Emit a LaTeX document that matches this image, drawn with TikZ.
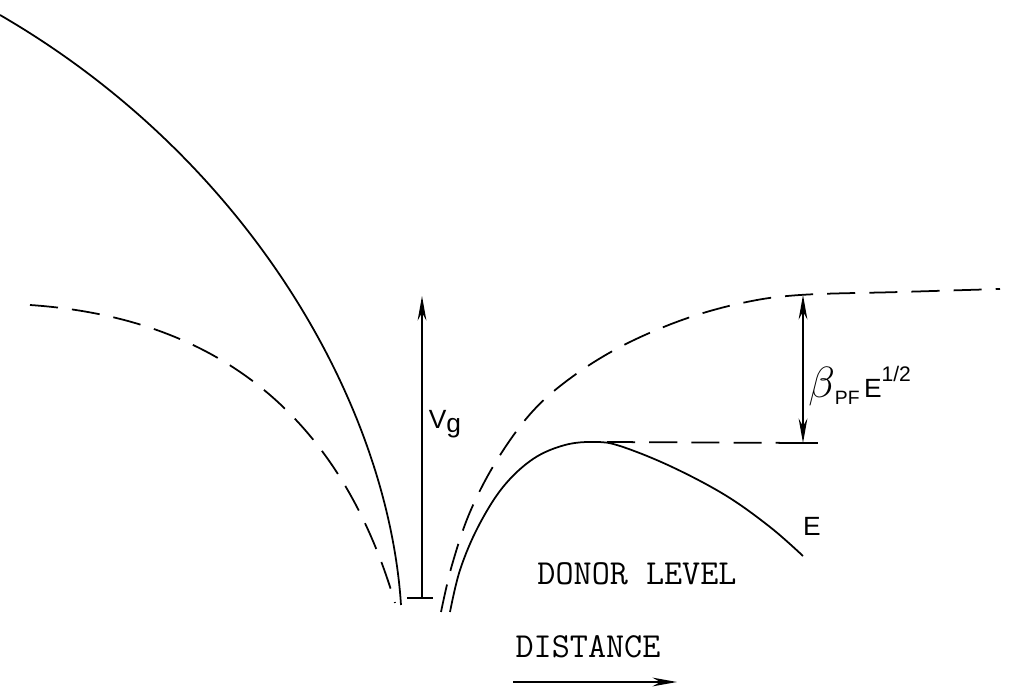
\documentclass[tikz,border=0pt]{standalone}
\usepackage{fontspec}
\usepackage{tikz}
\usetikzlibrary{arrows.meta, positioning, calc}
\newfontfamily\letterfont{Liberation Sans}

\begin{document}
\begin{tikzpicture}[
  x=0.02cm, y=-0.02cm,
  curve/.style={line width=1pt, line join=round},
  dashline/.style={line width=1pt, dash pattern=on 16pt off 8pt},
  lettering/.style={font=\letterfont\fontsize{15}{15}\selectfont, inner sep=0pt},
  typed/.style={font=\ttfamily\fontsize{20}{20}\selectfont, inner sep=0pt},
  arrow/.style={-{Stealth[length=14pt, width=5pt]}, line width=0.8pt},
  darrow/.style={{Stealth[length=14pt, width=5pt]}-{Stealth[length=14pt, width=5pt]}, line width=0.8pt}
]
\useasboundingbox (0,0) rectangle (1011,688);

% Conduction band edge, no field
\draw[curve] (0,15) .. controls (250,160) and (388,405) .. (401,605);
\draw[curve] plot[smooth, tension=0.6] coordinates {(450,612) (460,570) (478,527) (503,487)
  (533,459) (565,445) (595,442) (620,446) (670,466) (725,495) (770,527) (803,556)};

% Band edge with field (dashed)
\draw[dashline] (30,305) .. controls (250,320) and (350,450) .. (395,603);
\draw[dashline] plot[smooth, tension=0.6] coordinates {(441,612) (452,565) (470,512) (497,460)
  (532,412) (572,377) (622,346) (682,320) (742,303) (800,295) (900,292) (1000,289)};

% Coordinates
\coordinate (vgbot) at (422,598);
\coordinate (vgtop) at (422,296);
\coordinate (level) at (607,442);
\coordinate (lvlend) at (803,443);
\coordinate (vac) at (803,295);
\coordinate (distL) at (513,682);
\coordinate (distR) at (677,682);

% Barrier height
\draw[arrow] (vgbot) -- (vgtop);
\draw[line width=0.8pt] ($(vgbot)+(-15,0)$) -- ($(vgbot)+(11,0)$);
\node[lettering] (vg) at (445,424) {V\raisebox{-0.25ex}{g}};

% Lowering
\draw[dashline] (level) -- (lvlend);
\draw[line width=0.8pt] ($(lvlend)+(-13,0)$) -- ($(lvlend)+(15,0)$);
\draw[darrow] (lvlend) -- (vac);
\node[lettering, anchor=west] (beta) at (808,386) {{\fontsize{27}{27}\selectfont$\beta$}\raisebox{-0.5ex}{\fontsize{11}{11}\selectfont PF}\,E\raisebox{1.1ex}{\fontsize{12}{12}\selectfont 1/2}};

% Labels
\node[lettering] (field) at (812,526) {E};
\node[typed] (donor) at (637,574) {DONOR LEVEL};
\node[typed] (dist) at (588,647) {DISTANCE};
\draw[arrow] (distL) -- (distR);
\end{tikzpicture}
\end{document}
